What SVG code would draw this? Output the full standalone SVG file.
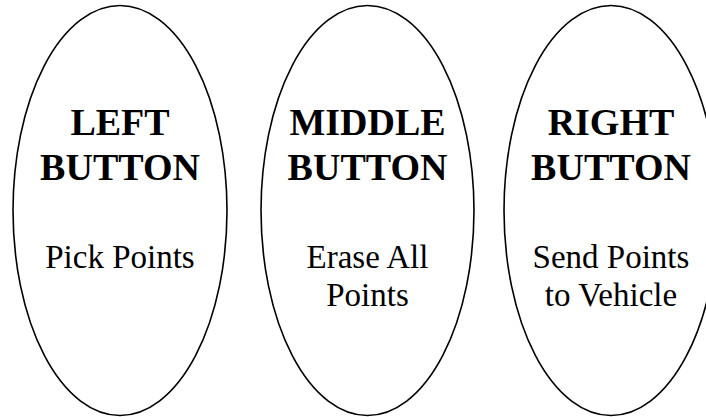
<svg xmlns="http://www.w3.org/2000/svg" width="706" height="417" viewBox="0 0 706 417">
<style>
.btn{fill:none;stroke:#000;stroke-width:1.6}
.t{font-family:"Liberation Serif","Times New Roman",serif;font-weight:bold;font-size:38px;text-anchor:middle;fill:#000}
.s{font-family:"Liberation Serif","Times New Roman",serif;font-size:33px;text-anchor:middle;fill:#000}
</style>
<rect width="706" height="417" fill="#fff"/>
<g id="left-button">
<ellipse class="btn" cx="120" cy="210.5" rx="107" ry="205"/>
<text class="t" x="120" y="135">LEFT</text>
<text class="t" x="120" y="180">BUTTON</text>
<text class="s" x="120" y="268">Pick Points</text>
</g>
<g id="middle-button">
<ellipse class="btn" cx="367.5" cy="210.5" rx="106.5" ry="205"/>
<text class="t" x="367.5" y="135">MIDDLE</text>
<text class="t" x="367.5" y="180">BUTTON</text>
<text class="s" x="367.5" y="268">Erase All</text>
<text class="s" x="367.5" y="306">Points</text>
</g>
<g id="right-button">
<ellipse class="btn" cx="611" cy="210.5" rx="107" ry="205"/>
<text class="t" x="611" y="135">RIGHT</text>
<text class="t" x="611" y="180">BUTTON</text>
<text class="s" x="611" y="268">Send Points</text>
<text class="s" x="611" y="306">to Vehicle</text>
</g>
<g id="connectors"></g>
</svg>
